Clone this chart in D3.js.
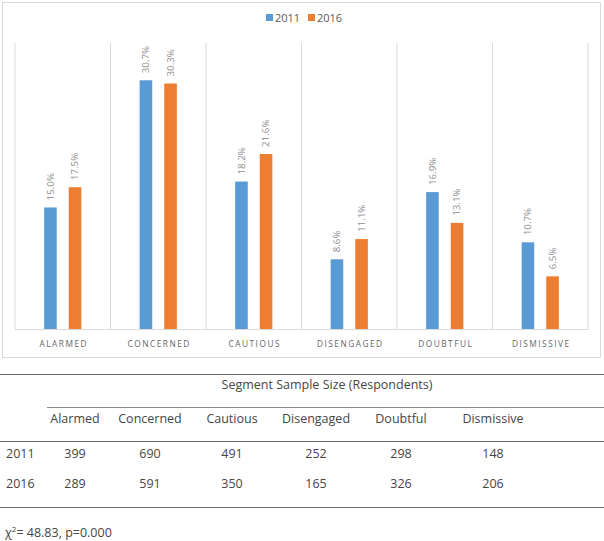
<!DOCTYPE html>
<html><head><meta charset="utf-8">
<script src="https://cdn.jsdelivr.net/npm/d3@7"></script>
<style>body{margin:0;background:#fff;}svg{display:block;font-family:"Open Sans", Lato, sans-serif;}</style>
</head><body>
<svg id="c" width="604" height="541"></svg>
<script>
const categories = ["ALARMED","CONCERNED","CAUTIOUS","DISENGAGED","DOUBTFUL","DISMISSIVE"];
const tableCats = ["Alarmed","Concerned","Cautious","Disengaged","Doubtful","Dismissive"];
const years = ["2011","2016"];
const values2011 = [15.0,30.7,18.2,8.6,16.9,10.7];
const values2016 = [17.5,30.3,21.6,11.1,13.1,6.5];
const sample2011 = [399,690,491,252,298,148];
const sample2016 = [289,591,350,165,326,206];
const colors = ["#5b9bd5","#ed7d31"];

const svg = d3.select("#c");
svg.append("rect").attr("x",2.5).attr("y",2.5).attr("width",598).attr("height",355)
  .attr("fill","#fff").attr("stroke","#d9d9d9");

const x = d3.scaleBand().domain(categories).range([15,588]);
const y = d3.scaleLinear().domain([0,35.3]).range([329,43]);

// gridlines
const gl = categories.map(c=>x(c)).concat([588]);
svg.selectAll("line.grid").data(gl).enter().append("line")
  .attr("x1",d=>d).attr("x2",d=>d).attr("y1",43).attr("y2",329)
  .attr("stroke","#d9d9d9").attr("stroke-width",1);
svg.append("line").attr("x1",15).attr("x2",588).attr("y1",329.5).attr("y2",329.5).attr("stroke","#d9d9d9");

const series = [values2011, values2016];
series.forEach((vals,si)=>{
  const g = svg.append("g");
  g.selectAll("rect").data(vals).enter().append("rect")
    .attr("x",(d,i)=>x(categories[i]) + x.bandwidth()/2 + (si===0?-12.3:12.3) - 6.3)
    .attr("width",12.6)
    .attr("y",d=>y(d)).attr("height",d=>329-y(d))
    .attr("fill",colors[si]);
  g.selectAll("text").data(vals).enter().append("text")
    .attr("transform",(d,i)=>`translate(${x(categories[i]) + x.bandwidth()/2 + (si===0?-12.3:12.3) + 3.3},${y(d)-7}) rotate(-90)`)
    .attr("font-size",9.8).attr("fill","#8c8c8c")
    .text(d=>d.toFixed(1)+"%");
});

// x axis labels
svg.selectAll("text.cat").data(categories).enter().append("text")
  .attr("x",d=>x(d)+x.bandwidth()/2+1).attr("y",346.5).attr("text-anchor","middle")
  .attr("font-size",8.3).attr("letter-spacing",1.5).attr("fill","#666")
  .text(d=>d);

// legend
const lg = svg.append("g");
years.forEach((yr,i)=>{
  const lx = 266 + i*42;
  lg.append("rect").attr("x",lx).attr("y",14).attr("width",7).attr("height",7).attr("fill",colors[i]);
  lg.append("text").attr("x",lx+9).attr("y",21.8).attr("font-size",11).attr("fill","#595959").text(yr);
});

// table
const colX = [75,150,232,316,401,493];
const fs = 12.5, tc = "#454545";
svg.append("line").attr("x1",0).attr("x2",604).attr("y1",374.5).attr("y2",374.5).attr("stroke","#6e6e6e");
svg.append("text").attr("x",327).attr("y",388.5).attr("text-anchor","middle").attr("font-size",fs).attr("fill",tc)
  .text("Segment Sample Size (Respondents)");
svg.append("line").attr("x1",47).attr("x2",604).attr("y1",407.5).attr("y2",407.5).attr("stroke","#8c8c8c");
svg.selectAll("text.th").data(tableCats).enter().append("text")
  .attr("x",(d,i)=>colX[i]).attr("y",422.5).attr("text-anchor","middle").attr("font-size",fs).attr("fill",tc).text(d=>d);
svg.append("line").attr("x1",0).attr("x2",604).attr("y1",441.5).attr("y2",441.5).attr("stroke","#6e6e6e");
[sample2011, sample2016].forEach((row,ri)=>{
  const ry = 458 + ri*30;
  svg.append("text").attr("x",6).attr("y",ry).attr("font-size",fs).attr("fill",tc).text(years[ri]);
  svg.selectAll(null).data(row).enter().append("text")
    .attr("x",(d,i)=>colX[i]).attr("y",ry).attr("text-anchor","middle").attr("font-size",fs).attr("fill",tc).text(d=>d);
});
svg.append("line").attr("x1",0).attr("x2",604).attr("y1",507.5).attr("y2",507.5).attr("stroke","#6e6e6e");
const chi = svg.append("text").attr("x",5).attr("y",537).attr("font-size",fs).attr("fill",tc);
chi.append("tspan").text("χ");
chi.append("tspan").attr("dy",-5).attr("font-size",8).text("2");
chi.append("tspan").attr("dy",5).text("= 48.83, p=0.000");
</script>
</body></html>
